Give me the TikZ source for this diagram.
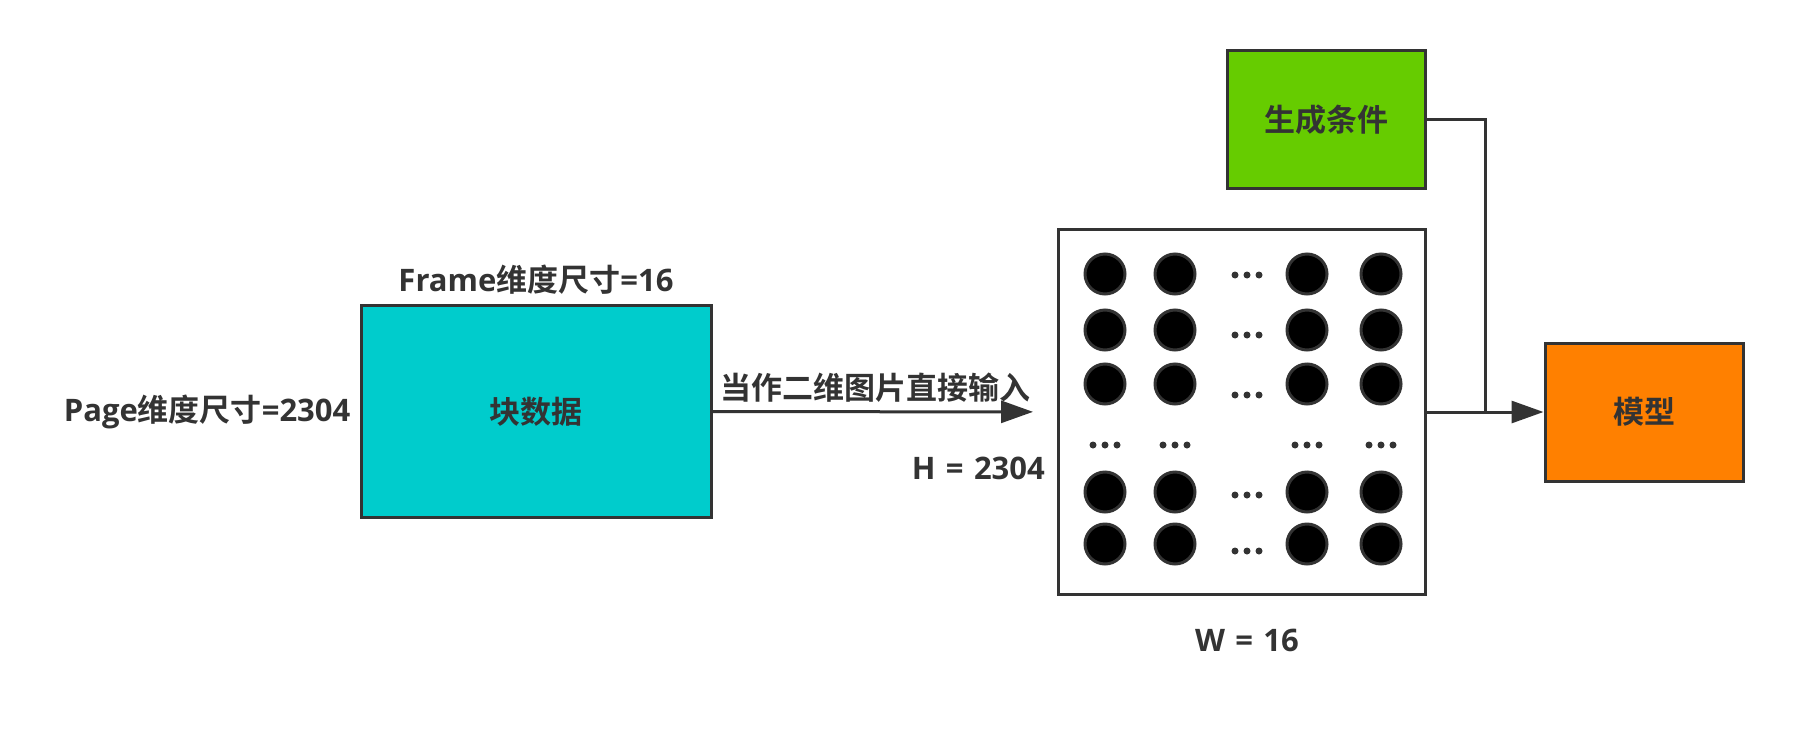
\documentclass[tikz,border=0pt]{standalone}
\usepackage{fontspec}
\setmainfont{Open Sans}
\newfontfamily\cjk{Noto Sans CJK SC}[BoldFont={Noto Sans CJK SC Bold}]
\usetikzlibrary{arrows.meta,positioning}

\definecolor{scuro}{HTML}{333333}
\definecolor{ciano}{HTML}{00CCCC}
\definecolor{verde}{HTML}{66CC00}
\definecolor{arancio}{HTML}{FF8000}

\tikzset{
  scatola/.style={draw=scuro, line width=3pt, inner sep=0pt},
  testo/.style={text=scuro, font=\fontsize{31}{36}\selectfont\bfseries, inner sep=0pt},
  freccia/.style={draw=scuro, line width=3pt, -{Triangle[length=32pt,width=22pt]}},
  linea/.style={draw=scuro, line width=3pt},
  pallino/.style={draw=scuro, line width=3pt, fill=black},
}

\begin{document}
\begin{tikzpicture}[x=1pt,y=-1pt]
        \useasboundingbox (0,0) rectangle (1793,731);

        % Nodi
        \node[scatola, testo, fill=ciano, minimum width=350pt, minimum height=212pt] (blocco) at (536,411.5) {\cjk 块数据};
        \node[testo, above=9pt of blocco] (frame) {Frame{\cjk 维度尺寸}=16};
        \node[testo, left=9pt of blocco] (page) {Page{\cjk 维度尺寸}=2304};
        \node[scatola, minimum width=367pt, minimum height=365pt] (griglia) at (1242,412) {};
        \node[scatola, testo, fill=verde, minimum width=198pt, minimum height=138pt] (cond) at (1326.5,119.5) {\cjk 生成条件};
        \node[scatola, testo, fill=arancio, minimum width=198pt, minimum height=138pt] (modello) at (1644,412) {\cjk 模型};
        \node[testo, anchor=east] (altezza) at (1045,468) {H\,\,=\,\,2304};
        \node[testo] (larghezza) at (1247,640) {W\,\,=\,\,16};
        \coordinate (giunto) at (1485,412);

        % Pallini
        \foreach \x in {1105,1175,1307,1381}{
          \foreach \y in {274,330,384,492,544}
            \draw[pallino] (\x,\y) circle [radius=20pt];
          \foreach \d in {-12,0,12}
            \fill[scuro] (\x+\d,445) circle [radius=3.5pt];
        }
        \foreach \y in {275,335,395,495,551}
          \foreach \d in {-12,0,12}
            \fill[scuro] (1247+\d,\y) circle [radius=3.5pt];

        % Archi
        \draw[freccia, shorten >=24pt] (blocco) -- (griglia) node[testo, midway, above=8pt, xshift=-9pt] {\cjk 当作二维图片直接输入};
        \draw[freccia] (griglia) -- (modello);
        \draw[linea] (cond) -| (giunto);

\end{tikzpicture}
\end{document}
